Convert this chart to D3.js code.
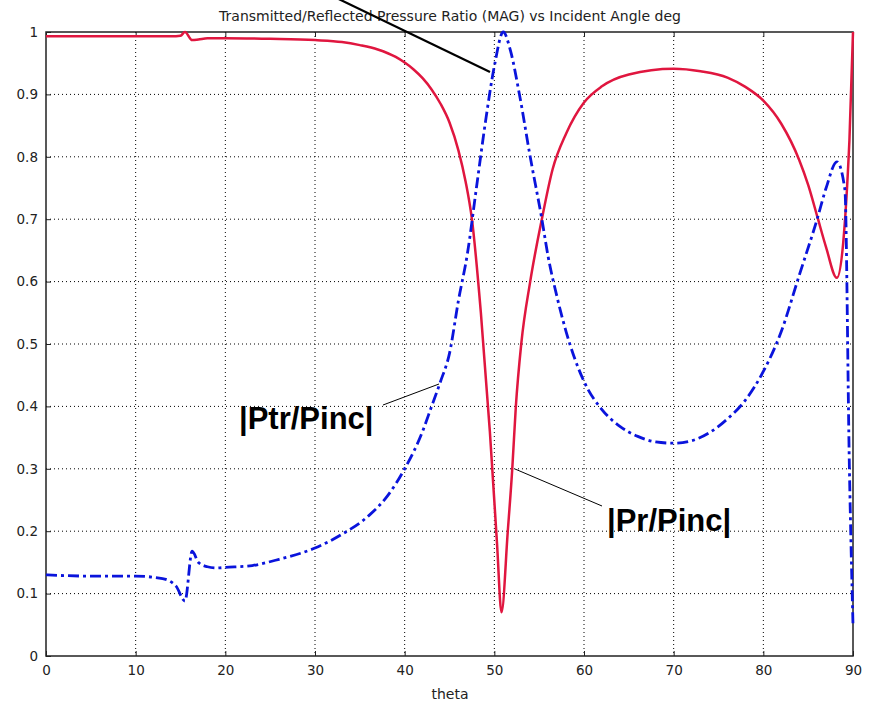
<!DOCTYPE html>
<html>
<head>
<meta charset="utf-8">
<script src="https://cdn.jsdelivr.net/npm/d3@7"></script>
<style>
  body { margin: 0; background: #fff; }
  .tick text { font-family: "DejaVu Sans", Verdana, sans-serif; font-size: 13.5px; fill: #222; }
  .grid line { stroke: #000; stroke-width: 1; stroke-dasharray: 1,3; }
  .annot { font-family: "Liberation Sans", Arial, sans-serif; font-weight: bold; font-size: 31px; fill: #000; }
</style>
</head>
<body>
<div id="chart"></div>
<script>
// |Pr/Pinc| reflected (red)
var thetaR = [0, 5, 10, 14, 15, 15.5, 16.3, 17, 18, 20, 25, 30, 33, 35, 37, 39, 40, 41, 42, 43, 44, 45, 46, 46.8, 47.5, 48.5, 49.5, 50.3, 50.8,
              51.5, 52, 52.4, 53, 54, 55.3, 56.5, 58, 60, 62, 65, 70, 73, 76, 78, 80, 82, 84, 85, 86.1, 87, 88.2, 89.6, 90];
var magR = [0.993, 0.993, 0.993, 0.993, 0.994, 1.0, 0.987, 0.988, 0.99, 0.99, 0.989, 0.987, 0.984, 0.979, 0.972, 0.96, 0.951, 0.94, 0.926, 0.908, 0.885, 0.855, 0.81, 0.76, 0.7,
            0.55, 0.36, 0.18, 0.07, 0.2, 0.3, 0.4, 0.5, 0.6, 0.70, 0.78, 0.837, 0.887, 0.913, 0.932, 0.941, 0.937, 0.927, 0.912, 0.89,
            0.853, 0.795, 0.755, 0.70, 0.655, 0.606, 0.826, 1.0];

// |Ptr/Pinc| transmitted (blue)
var thetaT = [0, 5, 10, 13, 14.5, 15.5, 16.3, 17, 18, 19, 20, 23, 26, 30, 33, 36, 38, 40, 42, 43, 44, 45, 46, 47, 48, 49, 50, 51,
              51.8, 52.8, 54, 55.3, 56, 57, 58, 60, 62, 64, 66, 68, 70, 72, 74, 76, 78, 80, 82, 84, 86, 87, 88.2, 89.1, 89.6, 90];
var magT = [0.13, 0.128, 0.128, 0.124, 0.112, 0.088, 0.168, 0.15, 0.143, 0.141, 0.142, 0.145, 0.155, 0.173, 0.195, 0.225, 0.255, 0.30, 0.36, 0.40, 0.44, 0.485, 0.57, 0.645, 0.75, 0.855, 0.945, 1.0,
            0.97, 0.90, 0.80, 0.70, 0.64, 0.575, 0.52, 0.44, 0.395, 0.368, 0.352, 0.343, 0.341, 0.345, 0.358, 0.38, 0.41, 0.456,
            0.52, 0.61, 0.70, 0.75, 0.792, 0.747, 0.3, 0.05];

var xTicks = [0, 10, 20, 30, 40, 50, 60, 70, 80, 90];
var yTicks = [0, 0.1, 0.2, 0.3, 0.4, 0.5, 0.6, 0.7, 0.8, 0.9, 1];

var margin = { top: 32, right: 19, bottom: 47, left: 46 },
    width = 872 - margin.left - margin.right,
    height = 703 - margin.top - margin.bottom;

var svgRoot = d3.select('#chart').append('svg')
    .attr('width', 872)
    .attr('height', 703);
var svg = svgRoot.append('g')
    .attr('transform', 'translate(' + margin.left + ',' + margin.top + ')');

var x = d3.scaleLinear().domain([0, 90]).range([0, width]);
var y = d3.scaleLinear().domain([0, 1]).range([height, 0]);

// dotted grid
svg.append('g').attr('class', 'grid')
    .selectAll('line.v').data(xTicks.slice(1, -1)).enter().append('line')
    .attr('x1', function(d) { return x(d); }).attr('x2', function(d) { return x(d); })
    .attr('y1', 0).attr('y2', height);
svg.append('g').attr('class', 'grid')
    .selectAll('line.h').data(yTicks.slice(1, -1)).enter().append('line')
    .attr('y1', function(d) { return y(d); }).attr('y2', function(d) { return y(d); })
    .attr('x1', 0).attr('x2', width);

// axes
var xAxis = d3.axisBottom(x).tickValues(xTicks).tickSize(-5).tickPadding(9).tickFormat(d3.format('d'));
var yAxis = d3.axisLeft(y).tickValues(yTicks).tickSize(-5).tickPadding(8).tickFormat(function(d) { return d === 0 || d === 1 ? d : d3.format('.1f')(d); });
svg.append('g').attr('transform', 'translate(0,' + height + ')').call(xAxis)
    .call(function(g) { g.select('.domain').remove(); g.selectAll('line').attr('stroke', '#222'); });
svg.append('g').call(yAxis)
    .call(function(g) { g.select('.domain').remove(); g.selectAll('line').attr('stroke', '#222'); });
svg.append('g').call(d3.axisTop(x).tickValues(xTicks).tickSize(-5).tickFormat(''))
    .call(function(g) { g.select('.domain').remove(); g.selectAll('line').attr('stroke', '#222'); });
svg.append('rect')
    .attr('width', width).attr('height', height)
    .attr('fill', 'none').attr('stroke', '#222').attr('stroke-width', 1.5);

// curves
var line = d3.line().curve(d3.curveMonotoneX)
    .x(function(d) { return x(d[0]); })
    .y(function(d) { return y(d[1]); });

svg.append('path')
    .datum(d3.zip(thetaR, magR))
    .attr('d', line)
    .attr('fill', 'none')
    .attr('stroke', '#e0163f')
    .attr('stroke-width', 2.5)
    .attr('stroke-linejoin', 'round');

svg.append('path')
    .datum(d3.zip(thetaT, magT))
    .attr('d', line)
    .attr('fill', 'none')
    .attr('stroke', '#0a14dc')
    .attr('stroke-width', 2.8)
    .attr('stroke-dasharray', '11,4,3,4');

// title and axis label
svgRoot.append('text')
    .attr('x', 450).attr('y', 21)
    .attr('text-anchor', 'middle')
    .style('font-family', '"DejaVu Sans", Verdana, sans-serif')
    .style('font-size', '14px').style('fill', '#222')
    .text('Transmitted/Reflected Pressure Ratio (MAG) vs Incident Angle deg');
svgRoot.append('text')
    .attr('x', 450).attr('y', 699)
    .attr('text-anchor', 'middle')
    .style('font-family', '"DejaVu Sans", Verdana, sans-serif')
    .style('font-size', '14px').style('fill', '#222')
    .text('theta');

// annotations
svgRoot.append('line')
    .attr('x1', 320).attr('y1', -10).attr('x2', 490).attr('y2', 72)
    .attr('stroke', '#000').attr('stroke-width', 2.2);
svgRoot.append('line')
    .attr('x1', 383).attr('y1', 405).attr('x2', 439).attr('y2', 384)
    .attr('stroke', '#000').attr('stroke-width', 1);
svgRoot.append('line')
    .attr('x1', 515).attr('y1', 469).attr('x2', 602).attr('y2', 506)
    .attr('stroke', '#000').attr('stroke-width', 1);
svgRoot.append('text').attr('class', 'annot')
    .attr('x', 239).attr('y', 429)
    .text('|Ptr/Pinc|');
svgRoot.append('text').attr('class', 'annot')
    .attr('x', 607).attr('y', 531)
    .text('|Pr/Pinc|');
</script>
</body>
</html>
